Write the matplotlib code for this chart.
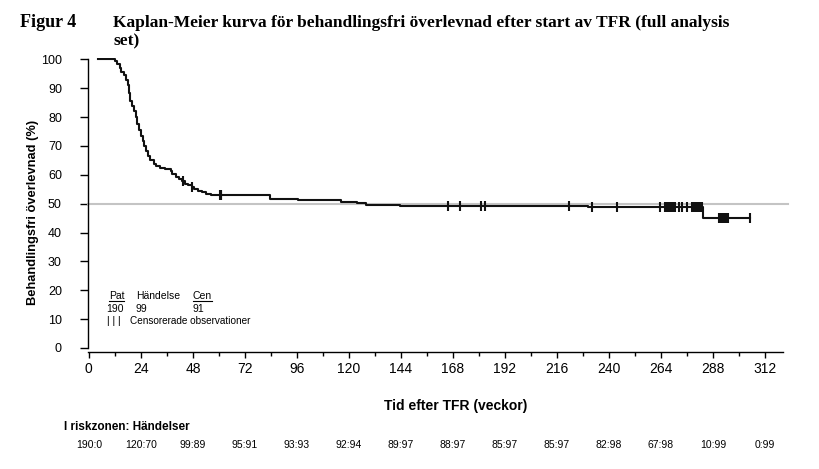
import numpy as np
import matplotlib
matplotlib.use('Agg')
import matplotlib.pyplot as plt
from matplotlib.lines import Line2D

# ---------------- data ----------------
km_weeks = [4.0, 12.1, 13.2, 14.2, 15.0, 16.0, 17.0, 18.0, 18.7, 19.2, 20.0, 21.0,
            21.6, 22.2, 23.0, 24.0, 24.8, 25.5, 26.3, 27.1, 28.3, 29.9, 31.0, 32.6,
            35.0, 37.8, 38.5, 40.0, 41.5, 43.0, 44.5, 45.8, 47.4, 48.5, 50.3, 52.0,
            54.0, 56.2, 83.6, 96.4, 116.4, 123.6, 127.7, 143.5, 230.5, 283.5]
km_surv = [100.0, 99.5, 98.4, 97.0, 95.8, 94.5, 92.8, 91.0, 88.5, 85.5, 83.8, 82.3,
           80.0, 77.5, 75.5, 73.4, 71.6, 69.9, 68.2, 66.4, 65.0, 63.7, 63.0, 62.4,
           61.9, 61.3, 60.2, 59.4, 58.7, 57.8, 57.0, 56.4, 55.9, 55.2, 54.5, 54.0,
           53.5, 53.0, 51.8, 51.2, 50.6, 50.1, 49.7, 49.3, 48.8, 45.0]
end_week = 305.2
censor_weeks = [43.3, 47.6, 60.3, 60.8, 61.2, 165.5, 171.3, 180.8, 182.9, 221.4,
                232.0, 243.8, 263.7, 265.7, 266.4, 267.1, 267.8, 268.5, 269.2, 269.9,
                270.4, 272.2, 273.9, 275.8, 278.2, 278.9, 279.6, 280.3, 281.0, 281.7,
                282.4, 283.0, 290.9, 291.6, 292.3, 293.0, 293.7, 294.4, 295.1, 305.2]
ref_level = 50
x_ticks = [0, 24, 48, 72, 96, 120, 144, 168, 192, 216, 240, 264, 288, 312]
y_ticks = [0, 10, 20, 30, 40, 50, 60, 70, 80, 90, 100]
risk_labels = ["190:0", "120:70", "99:89", "95:91", "93:93", "92:94", "89:97",
               "88:97", "85:97", "85:97", "82:98", "67:98", "10:99", "0:99"]
n_pat, n_event, n_cen = 190, 99, 91

title_fig = "Figur 4"
title_l1 = "Kaplan-Meier kurva för behandlingsfri överlevnad efter start av TFR (full analysis"
title_l2 = "set)"
ylabel = "Behandlingsfri överlevnad (%)"
xlabel = "Tid efter TFR (veckor)"
risk_title = "I riskzonen: Händelser"

# ---------------- figure ----------------
W, H = 820, 469
fig = plt.figure(figsize=(W / 100, H / 100), dpi=100)
fig.patch.set_facecolor('white')

def fx(px):
    return px / W

def fy(py):
    return 1 - py / H

SANS = ['Liberation Sans', 'DejaVu Sans']
NARROW = ['Liberation Sans Narrow', 'Liberation Sans', 'DejaVu Sans']
SERIF = ['Liberation Serif', 'DejaVu Serif']

ax = fig.add_axes([fx(88), fy(352), (783 - 88) / W, (352 - 58) / H])
ax.set_xlim(-0.4, 320.3)
ax.set_ylim(-1.4, 100.5)

# reference line
ax.plot([-0.4, 322.5], [ref_level, ref_level], color='#c4c4c4', lw=1.5,
        clip_on=False, zorder=2)

# KM curve
t = km_weeks + [end_week]
s = km_surv + [km_surv[-1]]
ax.step(t, s, where='post', color='#111111', lw=1.5, zorder=3)

# censor marks
idx = np.searchsorted(km_weeks, censor_weeks, side='right') - 1
cy = np.array(km_surv)[idx]
ax.plot(censor_weeks, cy, ls='none', marker='|', ms=6.5, mew=1.5,
        color='#111111', zorder=4)

# axes styling
for sp in ['top', 'right']:
    ax.spines[sp].set_visible(False)
for sp in ['left', 'bottom']:
    ax.spines[sp].set_linewidth(1.0)
    ax.spines[sp].set_color('black')
ax.spines['left'].set_bounds(0, 100)

ax.set_xticks(x_ticks)
ax.set_xticks([v + 12 for v in x_ticks[:-1]], minor=True)
ax.set_yticks(y_ticks)
ax.tick_params(axis='x', which='major', length=4.3, width=1.0, pad=3)
ax.tick_params(axis='x', which='minor', length=2.9, width=1.0)
ax.tick_params(axis='y', which='major', length=5.8, width=1.0, pad=13)
for lab in ax.get_xticklabels():
    lab.set_fontfamily(NARROW)
    lab.set_fontsize(10)
for lab in ax.get_yticklabels():
    lab.set_fontfamily(SANS)
    lab.set_fontsize(9)

# axis labels
fig.text(fx(33), fy(212), ylabel, rotation=90, ha='center', va='center',
         fontsize=9.3, fontweight='bold', family=SANS)
fig.text(fx(456), fy(406), xlabel, ha='center', va='center',
         fontsize=10, fontweight='bold', family=SANS)

# title
fig.text(fx(20), fy(27), title_fig, ha='left', va='baseline', fontsize=13,
         fontweight='bold', family=SERIF)
fig.text(fx(113), fy(27), title_l1, ha='left', va='baseline', fontsize=12.5,
         fontweight='bold', family=SERIF)
fig.text(fx(113), fy(45), title_l2, ha='left', va='baseline', fontsize=12.5,
         fontweight='bold', family=SERIF)

# in-plot legend
lf = dict(fontsize=7.5, family=SANS, va='center', ha='left')
t_pat = fig.text(fx(109), fy(296), "Pat", **lf)
fig.text(fx(136), fy(296), "Händelse", **lf)
t_cen = fig.text(fx(193), fy(296), "Cen", **lf)
fig.text(fx(106), fy(308.5), str(n_pat), **lf)
fig.text(fx(136), fy(308.5), str(n_event), **lf)
fig.text(fx(193), fy(308.5), str(n_cen), **lf)
fig.text(fx(107), fy(321), "| | |", **lf)
fig.text(fx(130), fy(321), "Censorerade observationer", fontsize=7.2,
         family=SANS, va='center', ha='left')

# numbers at risk
fig.text(fx(64), fy(427), risk_title, ha='left', va='center', fontsize=8.5,
         fontweight='bold', family=SANS)
trans = matplotlib.transforms.blended_transform_factory(ax.transData, fig.transFigure)
for xv, lab in zip(x_ticks, risk_labels):
    fig.text(xv, fy(445), lab, transform=trans, ha='center', va='center',
             fontsize=7.5, family=NARROW)

# underlines
fig.canvas.draw()
r = fig.canvas.get_renderer()
for tt in (t_pat, t_cen):
    bb = tt.get_window_extent(r)
    fig.add_artist(Line2D([bb.x0 / W, bb.x1 / W], [fy(300.7), fy(300.7)],
                          transform=fig.transFigure, color='black', lw=0.8))

fig.savefig('out.png', dpi=100, facecolor='white')
